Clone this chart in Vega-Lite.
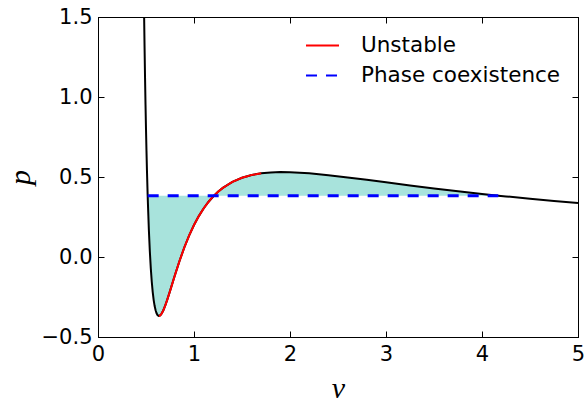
{
  "$schema": "https://vega.github.io/schema/vega-lite/v6.json",
  "width": 480,
  "height": 320,
  "autosize": "none",
  "padding": {"left": 98, "top": 17, "right": 7, "bottom": 66},
  "background": "white",
  "datasets": {
    "isotherm": [
      {"v": 0.47, "p": 2.029}, {"v": 0.48, "p": 1.5246}, {"v": 0.485, "p": 1.3122},
      {"v": 0.49, "p": 1.1222}, {"v": 0.495, "p": 0.9522}, {"v": 0.5, "p": 0.8},
      {"v": 0.505, "p": 0.6636}, {"v": 0.51, "p": 0.5415}, {"v": 0.5174, "p": 0.3834},
      {"v": 0.52, "p": 0.3339}, {"v": 0.53, "p": 0.1675}, {"v": 0.54, "p": 0.0345},
      {"v": 0.55, "p": -0.0712}, {"v": 0.56, "p": -0.1545}, {"v": 0.57, "p": -0.2195},
      {"v": 0.58, "p": -0.2694}, {"v": 0.59, "p": -0.3065}, {"v": 0.6, "p": -0.3333},
      {"v": 0.61, "p": -0.3516}, {"v": 0.62, "p": -0.3625}, {"v": 0.63, "p": -0.3676},
      {"v": 0.635, "p": -0.3682}, {"v": 0.64, "p": -0.3677}, {"v": 0.65, "p": -0.3638},
      {"v": 0.66, "p": -0.3565}, {"v": 0.68, "p": -0.3341}, {"v": 0.7, "p": -0.3042},
      {"v": 0.72, "p": -0.2698}, {"v": 0.75, "p": -0.2133}, {"v": 0.8, "p": -0.1161},
      {"v": 0.85, "p": -0.0232}, {"v": 0.9, "p": 0.061}, {"v": 0.95, "p": 0.1354},
      {"v": 1.0, "p": 0.2}, {"v": 1.05, "p": 0.2556}, {"v": 1.1, "p": 0.3033},
      {"v": 1.15, "p": 0.3438}, {"v": 1.2, "p": 0.3782}, {"v": 1.25, "p": 0.4073},
      {"v": 1.3, "p": 0.4318}, {"v": 1.4, "p": 0.4694}, {"v": 1.5, "p": 0.4952},
      {"v": 1.6, "p": 0.5124}, {"v": 1.7, "p": 0.5229}, {"v": 1.8, "p": 0.5286},
      {"v": 1.9, "p": 0.5307}, {"v": 2.0, "p": 0.53}, {"v": 2.1, "p": 0.5272},
      {"v": 2.2, "p": 0.523}, {"v": 2.4, "p": 0.5114}, {"v": 2.6, "p": 0.4974},
      {"v": 2.8, "p": 0.4822}, {"v": 3.0, "p": 0.4667}, {"v": 3.25, "p": 0.4474},
      {"v": 3.5, "p": 0.4288}, {"v": 3.75, "p": 0.4111}, {"v": 4.0, "p": 0.3943},
      {"v": 4.17, "p": 0.3835}, {"v": 4.25, "p": 0.3786}, {"v": 4.5, "p": 0.3639},
      {"v": 4.75, "p": 0.35}, {"v": 5.0, "p": 0.3371}
    ],
    "unstable": [
      {"v": 0.635, "p": -0.3682, "seg": "Unstable"}, {"v": 0.64, "p": -0.3677, "seg": "Unstable"},
      {"v": 0.65, "p": -0.3638, "seg": "Unstable"}, {"v": 0.66, "p": -0.3565, "seg": "Unstable"},
      {"v": 0.68, "p": -0.3341, "seg": "Unstable"}, {"v": 0.7, "p": -0.3042, "seg": "Unstable"},
      {"v": 0.72, "p": -0.2698, "seg": "Unstable"}, {"v": 0.75, "p": -0.2133, "seg": "Unstable"},
      {"v": 0.8, "p": -0.1161, "seg": "Unstable"}, {"v": 0.85, "p": -0.0232, "seg": "Unstable"},
      {"v": 0.9, "p": 0.061, "seg": "Unstable"}, {"v": 0.95, "p": 0.1354, "seg": "Unstable"},
      {"v": 1.0, "p": 0.2, "seg": "Unstable"}, {"v": 1.05, "p": 0.2556, "seg": "Unstable"},
      {"v": 1.1, "p": 0.3033, "seg": "Unstable"}, {"v": 1.15, "p": 0.3438, "seg": "Unstable"},
      {"v": 1.2, "p": 0.3782, "seg": "Unstable"}, {"v": 1.25, "p": 0.4073, "seg": "Unstable"},
      {"v": 1.3, "p": 0.4318, "seg": "Unstable"}, {"v": 1.4, "p": 0.4694, "seg": "Unstable"},
      {"v": 1.5, "p": 0.4952, "seg": "Unstable"}, {"v": 1.6, "p": 0.5124, "seg": "Unstable"},
      {"v": 1.7, "p": 0.5229, "seg": "Unstable"}
    ],
    "coexistence": [
      {"v": 0.5174, "p": 0.3834, "seg": "Phase coexistence"},
      {"v": 4.17, "p": 0.3834, "seg": "Phase coexistence"}
    ]
  },
  "config": {
    "view": {"stroke": "black", "strokeWidth": 1},
    "axis": {
      "grid": false,
      "domainColor": "black",
      "domainWidth": 1,
      "tickColor": "black",
      "tickSize": -6,
      "tickWidth": 1,
      "labelFlush": false,
      "labelOverlap": false,
      "labelFont": "DejaVu Sans",
      "labelFontSize": 21,
      "labelColor": "black",
      "labelPadding": 12,
      "titleFont": "Liberation Serif",
      "titleFontStyle": "italic",
      "titleFontWeight": "normal",
      "titleFontSize": 30,
      "titleColor": "black"
    },
    "legend": {
      "orient": "none",
      "legendX": 207,
      "legendY": 11,
      "padding": 0,
      "symbolType": "stroke",
      "symbolSize": 1089,
      "symbolStrokeWidth": 2,
      "labelFont": "DejaVu Sans",
      "labelFontSize": 21.5,
      "labelColor": "black",
      "labelOffset": 21,
      "labelLimit": 0,
      "rowPadding": 2
    }
  },
  "resolve": {"axis": {"x": "independent", "y": "independent"}},
  "layer": [
    {
      "data": {"name": "isotherm"},
      "transform": [{"filter": "datum.v >= 0.5174 && datum.v <= 4.17"}],
      "mark": {"type": "area", "color": "#a8e3dc", "clip": true},
      "encoding": {
        "x": {
          "field": "v", "type": "quantitative",
          "scale": {"domain": [0, 5], "nice": false},
          "axis": {"orient": "bottom", "values": [0, 1, 2, 3, 4, 5], "format": "d", "title": "v", "titlePadding": 9}
        },
        "y": {
          "field": "p", "type": "quantitative",
          "scale": {"domain": [-0.5, 1.5], "nice": false, "zero": false},
          "axis": {"orient": "left", "values": [-0.5, 0, 0.5, 1, 1.5], "format": ".1f", "title": "p", "titlePadding": 6}
        },
        "y2": {"datum": 0.3834}
      }
    },
    {
      "data": {"name": "isotherm"},
      "mark": {"type": "line", "color": "black", "strokeWidth": 2, "clip": true},
      "encoding": {
        "x": {
          "field": "v", "type": "quantitative",
          "axis": {"orient": "top", "values": [0, 1, 2, 3, 4, 5], "labels": false, "title": null}
        },
        "y": {
          "field": "p", "type": "quantitative",
          "axis": {"orient": "right", "values": [-0.5, 0, 0.5, 1, 1.5], "labels": false, "title": null}
        }
      }
    },
    {
      "data": {"name": "unstable"},
      "mark": {"type": "line", "strokeWidth": 2, "clip": true},
      "encoding": {
        "x": {"field": "v", "type": "quantitative", "axis": null},
        "y": {"field": "p", "type": "quantitative", "axis": null},
        "color": {
          "field": "seg", "type": "nominal",
          "scale": {"domain": ["Unstable", "Phase coexistence"], "range": ["#ff0000", "#0000ff"]},
          "legend": {"title": null}
        },
        "strokeDash": {
          "field": "seg", "type": "nominal",
          "scale": {"domain": ["Unstable", "Phase coexistence"], "range": [[1, 0], [11, 9]]},
          "legend": {"title": null}
        }
      }
    },
    {
      "data": {"name": "coexistence"},
      "mark": {"type": "line", "strokeWidth": 3, "clip": true},
      "encoding": {
        "x": {"field": "v", "type": "quantitative", "axis": null},
        "y": {"field": "p", "type": "quantitative", "axis": null},
        "color": {"field": "seg", "type": "nominal", "legend": {"title": null}},
        "strokeDash": {"field": "seg", "type": "nominal", "legend": {"title": null}}
      }
    }
  ]
}
